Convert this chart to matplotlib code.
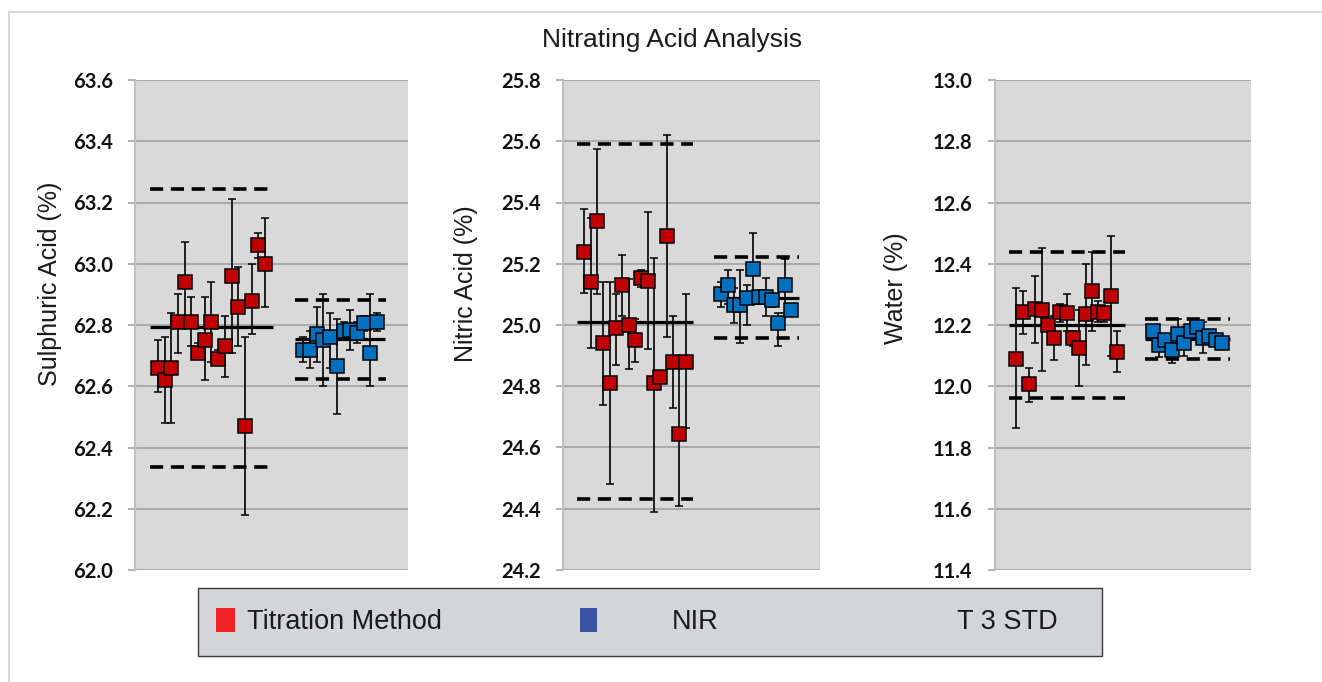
import numpy as np
import matplotlib
matplotlib.use("Agg")
import matplotlib.pyplot as plt
from matplotlib.patches import Rectangle
from matplotlib import font_manager as fm

# ---------------- data ----------------
title = "Nitrating Acid Analysis"
ylabels = ["Sulphuric Acid (%)", "Nitric Acid (%)", "Water (%)"]
ylims = [(62.0, 63.6), (24.2, 25.8), (11.4, 13.0)]
legend_labels = ["Titration Method", "NIR", "T 3 STD"]

# Sulphuric acid
sul_tit = [62.66, 62.62, 62.66, 62.81, 62.94, 62.81, 62.71, 62.75, 62.81, 62.69, 62.73, 62.96, 62.86, 62.47, 62.88, 63.06, 63.00]
sul_tit_hi = [62.75, 62.76, 62.84, 62.90, 63.07, 62.89, 62.74, 62.89, 62.94, 62.72, 62.83, 63.21, 62.99, 62.76, 63.00, 63.10, 63.15]
sul_tit_lo = [62.58, 62.48, 62.48, 62.71, 62.81, 62.73, 62.69, 62.62, 62.68, 62.67, 62.63, 62.71, 62.73, 62.18, 62.77, 63.02, 62.86]
sul_nir = [62.72, 62.72, 62.77, 62.75, 62.76, 62.665, 62.78, 62.785, 62.775, 62.805, 62.71, 62.81]
sul_nir_hi = [62.76, 62.78, 62.86, 62.90, 62.84, 62.82, 62.81, 62.85, 62.81, 62.83, 62.90, 62.84]
sul_nir_lo = [62.68, 62.66, 62.68, 62.60, 62.66, 62.51, 62.75, 62.72, 62.74, 62.78, 62.60, 62.78]
sul_stats = dict(tit_mean=62.792, tit_hi=63.244, tit_lo=62.336, nir_mean=62.754, nir_hi=62.881, nir_lo=62.625)

# Nitric acid
nit_tit = [25.24, 25.14, 25.34, 24.94, 24.81, 24.99, 25.13, 25.00, 24.95, 25.155, 25.145, 24.81, 24.83, 25.29, 24.88, 24.645, 24.88]
nit_tit_hi = [25.38, 25.35, 25.575, 25.14, 25.14, 25.10, 25.23, 25.15, 25.02, 25.18, 25.37, 25.22, 24.85, 25.62, 25.03, 24.88, 25.10]
nit_tit_lo = [25.105, 24.925, 25.10, 24.74, 24.48, 24.87, 25.03, 24.855, 24.88, 25.125, 24.92, 24.39, 24.81, 24.96, 24.73, 24.41, 24.665]
nit_nir = [25.10, 25.13, 25.065, 25.065, 25.087, 25.182, 25.09, 25.092, 25.081, 25.007, 25.13, 25.05]
nit_nir_hi = [25.14, 25.18, 25.12, 25.18, 25.13, 25.30, 25.11, 25.155, 25.10, 25.04, 25.215, 25.07]
nit_nir_lo = [25.06, 25.07, 25.005, 24.94, 25.00, 25.07, 25.07, 25.03, 25.06, 24.93, 25.04, 25.03]
nit_stats = dict(tit_mean=25.01, tit_hi=25.59, tit_lo=24.431, nir_mean=25.089, nir_hi=25.223, nir_lo=24.956)

# Water
wat_tit = [12.09, 12.243, 12.006, 12.251, 12.248, 12.199, 12.158, 12.243, 12.24, 12.156, 12.126, 12.235, 12.31, 12.243, 12.238, 12.295, 12.112]
wat_tit_hi = [12.32, 12.31, 12.06, 12.36, 12.45, 12.22, 12.23, 12.27, 12.30, 12.18, 12.25, 12.40, 12.44, 12.28, 12.26, 12.49, 12.18]
wat_tit_lo = [11.865, 12.17, 11.95, 12.14, 12.05, 12.18, 12.085, 12.21, 12.18, 12.13, 12.00, 12.07, 12.18, 12.21, 12.21, 12.10, 12.045]
wat_nir = [12.181, 12.134, 12.15, 12.12, 12.17, 12.14, 12.181, 12.194, 12.156, 12.163, 12.15, 12.141]
wat_nir_hi = [12.20, 12.15, 12.17, 12.14, 12.22, 12.16, 12.20, 12.21, 12.21, 12.18, 12.16, 12.155]
wat_nir_lo = [12.16, 12.095, 12.13, 12.075, 12.15, 12.10, 12.165, 12.18, 12.11, 12.145, 12.135, 12.13]
wat_stats = dict(tit_mean=12.199, tit_hi=12.437, tit_lo=11.962, nir_mean=12.155, nir_hi=12.221, nir_lo=12.09)

panels = [
    (sul_tit, sul_tit_lo, sul_tit_hi, sul_nir, sul_nir_lo, sul_nir_hi, sul_stats),
    (nit_tit, nit_tit_lo, nit_tit_hi, nit_nir, nit_nir_lo, nit_nir_hi, nit_stats),
    (wat_tit, wat_tit_lo, wat_tit_hi, wat_nir, wat_nir_lo, wat_nir_hi, wat_stats),
]

# ---------------- fonts ----------------
avail = {f.name for f in fm.fontManager.ttflist}
def fam(*names):
    out = [n for n in names if n in avail]
    return out + ["DejaVu Sans"]

NARROW = fam("Liberation Sans Narrow", "Liberation Sans")
REG = fam("Liberation Sans")
TICK = fam("Lato", "Open Sans")

plt.rcParams["lines.scale_dashes"] = False

W, H = 1322, 682
fig = plt.figure(figsize=(W / 100, H / 100), dpi=100)
fig.patch.set_facecolor("white")

def fx(px):
    return px / W
def fy(py):
    return 1 - py / H

# outer border
fig.add_artist(Rectangle((fx(9), fy(700)), fx(1330) - fx(9), fy(12) - fy(700),
                         transform=fig.transFigure, fill=False, edgecolor="#d9d9d9", lw=1.5))

axes_px = [(135, 408), (563, 820), (995, 1251)]
top_px, bot_px = 80, 570
label_pos = [(-0.267, 0.585), (-0.331, 0.585), (-0.34, 0.575)]

RED = "#c00000"
BLUE = "#0070c0"
XLIM = (-3.4, 37.3)
BLUE_START = 21.7

for i, ((l, r), (tv, tlo, thi, nv, nlo, nhi, st)) in enumerate(zip(axes_px, panels)):
    ax = fig.add_axes([fx(l), fy(bot_px), fx(r) - fx(l), fy(top_px) - fy(bot_px)])
    ax.set_facecolor("#d9d9d9")
    ax.set_xlim(*XLIM)
    ax.set_ylim(*ylims[i])
    ticks = np.round(np.arange(ylims[i][0], ylims[i][1] + 0.001, 0.2), 1)
    ax.set_yticks(ticks)
    ax.set_yticklabels([f"{t:.1f}" for t in ticks], fontfamily=TICK, fontweight="bold",
                       fontsize=14.5, color="#111111")
    ax.set_xticks([])
    ax.grid(axis="y", color="#a6a6a6", lw=1.3)
    ax.set_axisbelow(True)
    for s in ["top", "right", "bottom"]:
        ax.spines[s].set_visible(False)
    ax.spines["left"].set_color("#bfbfbf")
    ax.spines["left"].set_linewidth(1.5)
    ax.tick_params(axis="y", length=5, width=1.2, color="#a6a6a6", pad=11)

    tv = np.array(tv); tlo = np.array(tlo); thi = np.array(thi)
    nv = np.array(nv); nlo = np.array(nlo); nhi = np.array(nhi)
    xt = np.arange(len(tv))
    xn = BLUE_START + np.arange(len(nv))

    # mean and +/- 3 STD lines
    ax.hlines(st["tit_mean"], xt[0] - 1.2, xt[-1] + 1.2, color="black", lw=2.3, zorder=2)
    ax.hlines(st["nir_mean"], xn[0] - 1.2, xn[-1] + 1.2, color="black", lw=2.3, zorder=2)
    for key in ["tit_hi", "tit_lo"]:
        ax.plot([xt[0] - 1.2, xt[-1] + 1.2], [st[key]] * 2, color="black", lw=2.6,
                dashes=(9.5, 5.5), zorder=2)
    for key in ["nir_hi", "nir_lo"]:
        ax.plot([xn[0] - 1.2, xn[-1] + 1.3], [st[key]] * 2, color="black", lw=2.6,
                dashes=(9.5, 5.5), zorder=2)

    ekw = dict(fmt="s", ms=9.5, mec="black", mew=1.1, ecolor="black",
               elinewidth=1.2, capsize=3, capthick=1.2, zorder=3)
    ax.errorbar(xt, tv, yerr=[tv - tlo, thi - tv], mfc=RED, **ekw)
    ax.errorbar(xn, nv, yerr=[nv - nlo, nhi - nv], mfc=BLUE, **ekw)

    ax.set_ylabel(ylabels[i], fontfamily=REG, fontsize=18, color="#1a1a1a")
    ax.yaxis.set_label_coords(*label_pos[i])

fig.text(fx(672), fy(40), title, ha="center", va="center", fontfamily=NARROW, fontsize=19, color="#1a1a1a")

# legend box
fig.add_artist(Rectangle((fx(198), fy(656)), fx(1102) - fx(198), fy(588) - fy(656),
                         transform=fig.transFigure, facecolor="#d4d5d8", edgecolor="#3a3a3a", lw=1.0))
fig.add_artist(Rectangle((fx(216), fy(632)), fx(235) - fx(216), fy(608) - fy(632),
                         transform=fig.transFigure, facecolor="#ee2224", edgecolor="none"))
fig.add_artist(Rectangle((fx(580), fy(632)), fx(597) - fx(580), fy(608) - fy(632),
                         transform=fig.transFigure, facecolor="#3953a4", edgecolor="none"))
for txt, xp in zip(legend_labels, [247, 672, 957]):
    fig.text(fx(xp), fy(622), txt, ha="left", va="center", fontfamily=NARROW,
             fontsize=19.5, color="#1a1a1a")

fig.savefig("out.png", dpi=100)
